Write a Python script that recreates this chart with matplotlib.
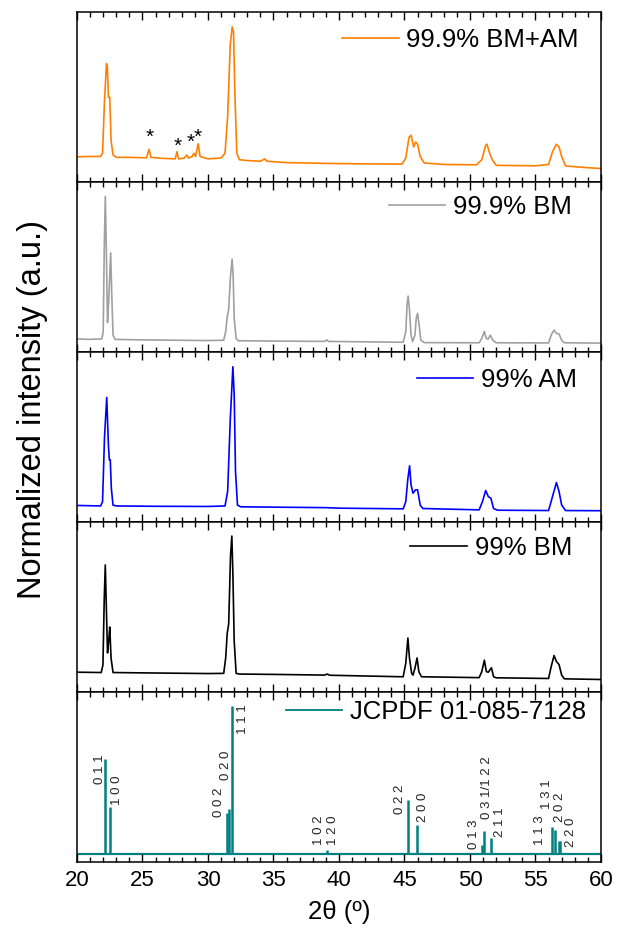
import matplotlib
matplotlib.use("Agg")
import matplotlib.pyplot as plt
from matplotlib.ticker import MultipleLocator

plt.rcParams['font.family'] = ['Liberation Sans', 'DejaVu Sans']

# ---------------- data ----------------
labels = ["99.9% BM+AM", "99.9% BM", "99% AM", "99% BM", "JCPDF 01-085-7128"]
colors = ["#ff8000", "#a0a0a0", "#0000ff", "#000000", "#008080"]

bmam_x = [20.0, 21.0, 21.8, 21.95, 22.1, 22.25, 22.32, 22.4, 22.5, 22.6, 22.75, 23.0, 24.0,
          25.3, 25.5, 25.65, 26.5, 27.5, 27.63, 27.75, 28.2, 28.38, 28.5, 28.8, 28.92, 29.05,
          29.25, 29.4, 30.0, 31.0, 31.3, 31.5, 31.7, 31.85, 31.95, 32.05, 32.2, 32.4, 33.0,
          34.0, 34.33, 34.5, 36.0, 40.0, 44.8, 45.1, 45.35, 45.5, 45.7, 45.85, 46.0, 46.2,
          46.5, 48.0, 50.5, 50.9, 51.2, 51.3, 51.5, 51.7, 52.0, 55.0, 56.0, 56.3, 56.6, 56.8,
          57.0, 57.3, 59.0, 60.0]
bmam_y = [0.149, 0.151, 0.151, 0.170, 0.480, 0.697, 0.678, 0.499, 0.499, 0.245, 0.160, 0.146, 0.146,
          0.143, 0.193, 0.146, 0.140, 0.137, 0.179, 0.137, 0.142, 0.160, 0.142, 0.151, 0.170, 0.151,
          0.226, 0.151, 0.137, 0.142, 0.170, 0.386, 0.810, 0.913, 0.885, 0.527, 0.170, 0.132, 0.127,
          0.123, 0.137, 0.123, 0.115, 0.109, 0.106, 0.142, 0.264, 0.276, 0.207, 0.236, 0.223, 0.151,
          0.113, 0.104, 0.102, 0.132, 0.217, 0.223, 0.170, 0.132, 0.099, 0.096, 0.104, 0.179, 0.223, 0.207,
          0.151, 0.095, 0.085, 0.080]

bm999_x = [20.0, 21.0, 21.9, 22.0, 22.08, 22.16, 22.24, 22.33, 22.42, 22.57, 22.65, 22.75, 22.9,
           25.0, 30.0, 31.2, 31.35, 31.47, 31.58, 31.72, 31.84, 31.92, 32.0, 32.15, 32.3, 35.0,
           38.9, 39.06, 39.2, 44.9, 45.1, 45.2, 45.28, 45.38, 45.5, 45.62, 45.8, 45.9, 46.0, 46.1,
           46.25, 46.5, 50.7, 50.9, 51.1, 51.25, 51.4, 51.55, 51.75, 52.0, 56.0, 56.2, 56.42, 56.6,
           56.8, 57.0, 57.2, 60.0]
bm999_y = [0.078, 0.075, 0.078, 0.120, 0.600, 0.916, 0.600, 0.174, 0.300, 0.584, 0.350, 0.100, 0.075,
           0.072, 0.068, 0.070, 0.120, 0.209, 0.250, 0.450, 0.547, 0.450, 0.200, 0.080, 0.067, 0.065,
           0.063, 0.072, 0.063, 0.058, 0.120, 0.280, 0.330, 0.250, 0.100, 0.062, 0.100, 0.200, 0.228, 0.170,
           0.070, 0.056, 0.055, 0.080, 0.121, 0.080, 0.077, 0.100, 0.070, 0.055, 0.054, 0.100, 0.130, 0.110,
           0.107, 0.070, 0.055, 0.053]

am99_x = [20.0, 21.8, 21.95, 22.1, 22.27, 22.4, 22.47, 22.54, 22.62, 22.75, 23.0, 26.0, 30.0,
          31.3, 31.5, 31.7, 31.9, 32.0, 32.1, 32.25, 32.5, 35.0, 39.0, 40.0, 44.9, 45.1, 45.25,
          45.39, 45.5, 45.65, 45.85, 46.0, 46.2, 46.4, 50.7, 50.95, 51.2, 51.4, 51.6, 51.8, 52.1,
          56.0, 56.3, 56.6, 56.8, 57.0, 57.3, 60.0]
am99_y = [0.098, 0.095, 0.120, 0.500, 0.734, 0.450, 0.366, 0.366, 0.200, 0.100, 0.095, 0.093, 0.092,
          0.095, 0.180, 0.600, 0.914, 0.750, 0.300, 0.100, 0.090, 0.088, 0.085, 0.082, 0.078, 0.120, 0.250,
          0.331, 0.220, 0.170, 0.190, 0.190, 0.100, 0.080, 0.072, 0.120, 0.186, 0.150, 0.140, 0.080, 0.070,
          0.068, 0.150, 0.233, 0.180, 0.100, 0.068, 0.067]

bm99_x = [20.0, 21.85, 21.98, 22.08, 22.16, 22.24, 22.33, 22.42, 22.5, 22.6, 22.75, 25.0, 30.0,
          31.2, 31.35, 31.47, 31.58, 31.72, 31.82, 31.9, 32.0, 32.15, 32.4, 35.0, 38.9, 39.1, 39.3,
          44.9, 45.1, 45.26, 45.38, 45.55, 45.65, 45.8, 45.96, 46.1, 46.3, 50.7, 50.9, 51.1, 51.25,
          51.4, 51.64, 51.8, 52.0, 56.0, 56.2, 56.42, 56.6, 56.8, 57.0, 57.2, 60.0]
bm99_y = [0.117, 0.115, 0.160, 0.550, 0.748, 0.500, 0.230, 0.300, 0.383, 0.200, 0.115, 0.113, 0.109,
          0.110, 0.200, 0.348, 0.400, 0.800, 0.918, 0.700, 0.300, 0.110, 0.106, 0.104, 0.100, 0.106, 0.099,
          0.090, 0.170, 0.318, 0.200, 0.110, 0.100, 0.140, 0.201, 0.120, 0.090, 0.085, 0.120, 0.1875, 0.120,
          0.117, 0.143, 0.090, 0.084, 0.080, 0.150, 0.215, 0.180, 0.162, 0.100, 0.078, 0.074]

# reference pattern: stick positions (2theta) and relative intensities (%)
ref_pos = [22.16, 22.51, 31.47, 31.63, 31.84, 39.06, 45.26, 45.96, 50.94, 51.10, 51.61,
           56.29, 56.50, 56.78, 56.89]
ref_int = [64.5, 31.7, 27.6, 30.6, 100.0, 2.3, 36.2, 19.3, 5.7, 15.1, 10.6,
           18.1, 16.3, 8.7, 8.4]

# hkl labels: text, label x, label bottom (in % intensity units)
hkl_text = ["0 1 1", "1 0 0", "0 0 2", "0 2 0", "1 1 1", "1 0 2", "1 2 0", "0 2 2", "2 0 0",
            "0 1 3", "0 3 1/1 2 2", "2 1 1", "1 1 3", "1 3 1", "2 0 2", "2 2 0"]
hkl_x = [21.72, 23.03, 30.85, 31.38, 32.70, 38.44, 39.52, 44.64, 46.44,
         50.29, 51.33, 52.26, 55.34, 55.88, 56.88, 57.68]
hkl_y = [47.4, 32.8, 24.9, 49.7, 81.4, 5.7, 5.7, 27.1, 21.5,
         3.3, 23.8, 11.3, 5.7, 30.6, 21.5, 4.5]

# impurity markers (*) in the 99.9% BM+AM pattern
star_x = [25.57, 27.70, 28.65, 29.25]
star_y = [0.286, 0.231, 0.257, 0.286]

series = [(bmam_x, bmam_y), (bm999_x, bm999_y), (am99_x, am99_y), (bm99_x, bm99_y)]

# ---------------- figure ----------------
fig = plt.figure(figsize=(6.17, 9.36), dpi=100)
axes = fig.subplots(5, 1, sharex=True)
fig.subplots_adjust(left=0.1248, right=0.974, top=0.987, bottom=0.079, hspace=0)

legend_right = [22, 29, 24, 29, 15]   # px gap from right spine
legend_yc = [0.835, 0.853, 0.836, 0.85, 0.882]
axw_px = 524.0

for i, ax in enumerate(axes):
    if i < 4:
        x, y = series[i]
        ax.plot(x, y, color=colors[i], lw=1.2, label=labels[i])
        ax.set_ylim(0, 1)
    else:
        ax.axhline(0, color=colors[i], lw=1.6, zorder=1)
        ax.vlines(ref_pos, 0, ref_int, color=colors[i], lw=1.8)
        ax.plot([], [], color=colors[i], lw=1.3, label=labels[i])
        ax.set_ylim(-5.65, 109.7)
        for t, tx, ty in zip(hkl_text, hkl_x, hkl_y):
            ax.text(tx, ty, t, rotation=90, ha='center', va='bottom', fontsize=9.5,
                    color='#222222')
    ax.set_xlim(20, 60)
    ax.set_yticks([])
    ax.xaxis.set_major_locator(MultipleLocator(5))
    ax.xaxis.set_minor_locator(MultipleLocator(1))
    ax.tick_params(axis='x', which='both', direction='in', top=True, bottom=True,
                   width=1.0, labelsize=16, pad=6)
    ax.tick_params(axis='x', which='major', length=6)
    ax.tick_params(axis='x', which='minor', length=3.5)
    for s in ax.spines.values():
        s.set_linewidth(1.1)
    leg = ax.legend(loc='center right', frameon=False, fontsize=18.5,
                    handlelength=2.2, handletextpad=0.3, borderaxespad=0, borderpad=0,
                    bbox_to_anchor=(1 - legend_right[i] / axw_px, legend_yc[i]))

for sx, sy in zip(star_x, star_y):
    axes[0].annotate("*", (sx, sy), xytext=(0, -6.5), textcoords='offset points',
                     ha='center', va='baseline', fontsize=15, color='black')

for ax in axes[:4]:
    ax.tick_params(axis='x', labelbottom=False)

axes[-1].set_xlabel("2θ (º)", fontsize=18.5, labelpad=6)
fig.text(0.052, 0.562, "Normalized intensity (a.u.)", rotation=90, ha='center',
         va='center', fontsize=23.5)

fig.savefig("out.png", dpi=100)
